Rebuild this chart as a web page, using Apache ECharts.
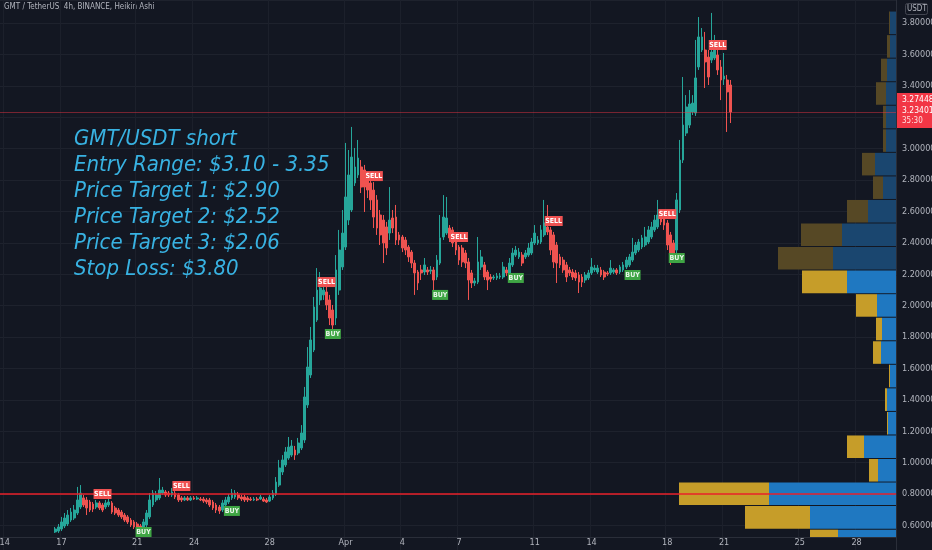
<!DOCTYPE html>
<html><head><meta charset="utf-8">
<script src="https://cdn.jsdelivr.net/npm/echarts@6/dist/echarts.min.js"></script>
<style>html,body{margin:0;padding:0;background:#131722;}#c{width:932px;height:550px;}</style>
</head><body><div id="c"></div>
<script>
// ---------- data ----------
const slotStart = '2022-03-13 20:00';   // first 4h slot of the time axis
const slotCount = 284;
const candleStart = '2022-03-16 16:00'; // first visible Heikin Ashi candle

const opens = [
.558,.564,.577,.596,.609,.634,.647,.679,.717,.775,
.762,.749,.736,.717,.743,.730,.717,.730,.743,.711,
.698,.685,.666,.654,.634,.622,.609,.596,.571,.603,
.654,.730,.762,.775,.806,.813,.806,.794,.806,.794,
.775,.762,.775,.762,.775,.768,.768,.768,.762,.762,
.749,.730,.717,.698,.730,.749,.775,.781,.794,.781,
.781,.775,.768,.762,.768,.768,.768,.762,.755,.775,
.800,.857,.940,.985,1.029,1.048,1.080,1.061,1.093,1.144,
1.367,1.558,1.717,1.908,2.036,2.068,2.087,2.036,1.972,1.921,
2.099,2.246,2.373,2.545,2.609,2.781,2.832,2.883,2.864,2.800,
2.781,2.736,2.673,2.577,2.545,2.501,2.462,2.558,2.564,2.450,
2.437,2.418,2.373,2.341,2.271,2.214,2.227,2.214,2.227,2.220,
2.227,2.182,2.271,2.437,2.462,2.494,2.482,2.450,2.373,2.367,
2.335,2.278,2.208,2.144,2.150,2.246,2.259,2.214,2.182,2.176,
2.176,2.182,2.182,2.227,2.208,2.259,2.322,2.310,2.322,2.310,
2.322,2.335,2.399,2.399,2.405,2.450,2.501,2.482,2.450,2.386,
2.310,2.290,2.259,2.227,2.214,2.208,2.195,2.182,2.163,2.176,
2.208,2.227,2.214,2.227,2.214,2.208,2.208,2.214,2.227,2.214,
2.227,2.246,2.259,2.290,2.335,2.354,2.373,2.386,2.405,2.437,
2.482,2.501,2.564,2.558,2.526,2.450,2.399,2.354,2.609,2.927,
3.099,3.150,3.233,3.227,3.520,3.628,3.628,3.583,3.564,3.577,
3.596,3.520,3.443,3.437,3.405];
const closes = [
.577,.590,.622,.647,.666,.685,.698,.762,.806,.730,
.711,.698,.704,.743,.711,.698,.743,.749,.685,.679,
.666,.654,.634,.622,.603,.590,.571,.564,.622,.679,
.762,.806,.794,.825,.825,.794,.794,.813,.781,.762,
.762,.775,.762,.775,.768,.775,.762,.755,.749,.730,
.711,.698,.692,.743,.762,.781,.806,.806,.775,.768,
.762,.762,.762,.768,.762,.781,.755,.749,.781,.806,
.876,.966,1.017,1.068,1.099,1.106,1.048,1.125,1.189,1.418,
1.609,1.781,1.991,2.099,2.112,2.099,2.004,1.921,1.876,2.227,
2.354,2.462,2.692,2.832,2.946,2.883,2.940,2.755,2.755,2.736,
2.673,2.564,2.494,2.450,2.399,2.367,2.545,2.494,2.418,2.418,
2.367,2.354,2.310,2.271,2.208,2.144,2.208,2.259,2.214,2.227,
2.163,2.290,2.431,2.564,2.558,2.431,2.399,2.354,2.290,2.278,
2.271,2.163,2.144,2.157,2.278,2.310,2.182,2.163,2.169,2.182,
2.189,2.189,2.246,2.208,2.271,2.335,2.354,2.341,2.271,2.335,
2.367,2.405,2.462,2.418,2.482,2.526,2.469,2.354,2.278,2.271,
2.259,2.227,2.182,2.208,2.182,2.176,2.150,2.150,2.195,2.208,
2.246,2.239,2.239,2.195,2.182,2.201,2.239,2.227,2.208,2.246,
2.259,2.290,2.310,2.341,2.386,2.405,2.431,2.437,2.482,2.501,
2.545,2.577,2.533,2.513,2.386,2.322,2.310,2.673,2.927,3.150,
3.265,3.284,3.290,3.450,3.711,3.711,3.552,3.456,3.615,3.673,
3.501,3.437,3.462,3.361,3.233];
const lows = [
.552,.552,.564,.583,.596,.622,.634,.666,.704,.717,
.666,.685,.685,.704,.698,.685,.704,.717,.673,.666,
.654,.641,.622,.609,.590,.577,.558,.545,.552,.590,
.641,.717,.749,.762,.794,.781,.781,.781,.768,.749,
.749,.755,.755,.755,.762,.762,.755,.743,.736,.717,
.698,.679,.673,.685,.717,.736,.762,.768,.762,.755,
.749,.749,.755,.755,.755,.762,.749,.743,.749,.762,
.787,.845,.921,.972,1.017,1.036,1.017,1.048,1.080,1.125,
1.348,1.539,1.704,1.896,2.004,2.036,1.972,1.876,1.845,1.876,
2.068,2.227,2.354,2.513,2.596,2.762,2.813,2.717,2.596,2.685,
2.609,2.494,2.450,2.386,2.271,2.322,2.418,2.462,2.386,2.386,
2.341,2.322,2.278,2.239,2.068,2.099,2.163,2.195,2.195,2.201,
2.087,2.163,2.259,2.418,2.450,2.405,2.373,2.322,2.259,2.246,
2.239,2.036,2.112,2.125,2.137,2.227,2.163,2.099,2.150,2.163,
2.163,2.169,2.169,2.189,2.195,2.246,2.310,2.297,2.252,2.297,
2.310,2.322,2.386,2.386,2.392,2.437,2.450,2.322,2.239,2.144,
2.239,2.208,2.150,2.189,2.163,2.157,2.080,2.118,2.144,2.163,
2.195,2.214,2.201,2.182,2.163,2.189,2.195,2.201,2.195,2.201,
2.214,2.233,2.246,2.278,2.322,2.341,2.360,2.373,2.392,2.424,
2.469,2.488,2.513,2.482,2.354,2.259,2.278,2.278,2.590,2.908,
3.080,3.131,3.214,3.208,3.501,3.615,3.386,3.405,3.545,3.564,
3.469,3.309,3.405,3.106,3.163];
const highs = [
.590,.609,.654,.679,.698,.711,.730,.845,.857,.794,
.781,.762,.749,.762,.755,.743,.762,.768,.755,.724,
.711,.698,.679,.666,.647,.634,.622,.609,.641,.698,
.806,.825,.819,.902,.845,.825,.819,.838,.825,.806,
.787,.787,.787,.787,.787,.787,.781,.781,.775,.775,
.762,.743,.730,.762,.781,.800,.832,.825,.813,.794,
.794,.787,.781,.781,.781,.794,.781,.775,.794,.825,
.908,1.017,1.048,1.099,1.163,1.144,1.106,1.157,1.239,1.482,
1.736,1.864,2.055,2.239,2.214,2.163,2.131,2.068,2.004,2.322,
2.482,2.609,3.036,2.991,3.138,3.004,3.055,2.927,2.896,2.851,
2.819,2.787,2.704,2.609,2.577,2.533,2.755,2.609,2.641,2.469,
2.450,2.437,2.386,2.354,2.290,2.227,2.259,2.303,2.246,2.252,
2.246,2.322,2.577,2.704,2.692,2.513,2.501,2.469,2.386,2.386,
2.354,2.303,2.227,2.176,2.437,2.354,2.278,2.227,2.201,2.195,
2.208,2.208,2.278,2.246,2.303,2.367,2.380,2.367,2.341,2.354,
2.399,2.431,2.513,2.443,2.513,2.673,2.641,2.501,2.469,2.405,
2.329,2.310,2.278,2.246,2.233,2.227,2.214,2.201,2.214,2.227,
2.303,2.259,2.259,2.246,2.227,2.220,2.290,2.239,2.239,2.259,
2.278,2.310,2.329,2.431,2.405,2.424,2.450,2.501,2.507,2.533,
2.577,2.673,2.596,2.577,2.545,2.469,2.418,2.717,3.055,3.456,
3.341,3.373,3.341,3.692,3.838,3.768,3.743,3.628,3.864,3.724,
3.641,3.564,3.609,3.469,3.437];

const tickDates  = ['2022-03-14','2022-03-17','2022-03-21','2022-03-24','2022-03-28','2022-04-01','2022-04-04','2022-04-07','2022-04-11','2022-04-14','2022-04-18','2022-04-21','2022-04-25','2022-04-28'];
const tickLabels = ['14','17','21','24','28','Apr','4','7','11','14','18','21','25','28'];

const signalTimes  = ['2022-03-19 04:00','2022-03-21 08:00','2022-03-23 08:00','2022-03-26 00:00','2022-03-31 00:00','2022-03-31 08:00','2022-04-02 12:00','2022-04-06 00:00','2022-04-07 00:00','2022-04-10 00:00','2022-04-12 00:00','2022-04-16 04:00','2022-04-18 00:00','2022-04-18 12:00','2022-04-20 16:00'];
const signalPrices = [0.800,0.558,0.851,0.692,2.150,1.819,2.825,2.068,2.437,2.176,2.539,2.195,2.583,2.303,3.660];
const signalTypes  = ['SELL','BUY','SELL','BUY','SELL','BUY','SELL','BUY','SELL','BUY','SELL','BUY','SELL','BUY','SELL'];

// volume profile (visible range), rows of 0.15 USDT
const profileLow  = [0.426,0.576,0.726,0.876,1.026,1.176,1.326,1.476,1.626,1.776,1.926,2.076,2.226,2.376,2.526,2.676,2.826,2.976,3.126,3.276,3.426,3.576,3.726];
const profileUp   = [29,43,63.5,9,16,4,4.5,3,7.5,7,9.5,24.5,31.5,27,14,6.5,10.5,5,5,5,4.5,3,3];
const profileDown = [14,32.5,45,4.5,8.5,0.5,1,0.5,4,3,10.5,22.5,27.5,20.5,10.5,5,6.5,1.5,1.5,5,3,1.5,0.5];
const profileRow = 0.15;
const valueAreaHigh = 2.226;

const priceMin = 0.4, priceMax = 3.9465, priceStep = 0.2;
const drawnLevel = 0.80;
const lastPrice = 3.23401, haPrice = 3.27448, countdown = '35:30';

// ---------- helpers ----------
const H4 = 4 * 3600 * 1000;
function parseT(s){ const [d,t] = s.split(' '); const [Y,M,D] = d.split('-').map(Number); const [h,m] = (t||'00:00').split(':').map(Number); return Date.UTC(Y,M-1,D,h,m); }
function fmtT(ms){ const d = new Date(ms); const p = n => String(n).padStart(2,'0');
  return d.getUTCFullYear()+'-'+p(d.getUTCMonth()+1)+'-'+p(d.getUTCDate())+' '+p(d.getUTCHours())+':'+p(d.getUTCMinutes()); }
const cats = []; for (let i=0;i<slotCount;i++) cats.push(fmtT(parseT(slotStart)+i*H4));
const tickMap = {}; tickDates.forEach((d,i)=>{ tickMap[fmtT(parseT(d+' 00:00'))] = tickLabels[i]; });
const candleRows = opens.map((o,i)=>[fmtT(parseT(candleStart)+i*H4), o, closes[i], lows[i], highs[i]]);
const profileRows = profileLow.map((lo,i)=>[lo, lo+profileRow, profileUp[i], profileDown[i], lo >= valueAreaHigh - 1e-6 ? 1 : 0]);

const FONT = "'Liberation Sans Narrow','DejaVu Sans Condensed','Liberation Sans',sans-serif";
const UP='#26a69a', DOWN='#ef5350';
const X_OFFSET = -19.8;

const chart = echarts.init(document.getElementById('c'), null, {renderer:'canvas'});
const gridBox = {left:0, right:36, top:0, bottom:-6.8, outerBoundsMode:'none'};
chart.setOption({
  backgroundColor:'#131722',
  animation:false,
  grid:[Object.assign({},gridBox), Object.assign({},gridBox)],
  xAxis:[
    {type:'category', gridIndex:0, data:cats, boundaryGap:true, offset:X_OFFSET,
     axisLine:{show:true, lineStyle:{color:'#2a2e39'}}, axisTick:{show:false},
     axisLabel:{interval:(i,v)=>tickMap[v]!==undefined, formatter:v=>tickMap[v]||'', color:'#b2b5be', fontSize:9, margin:1, fontFamily:FONT},
     splitLine:{show:true, interval:(i,v)=>tickMap[v]!==undefined, lineStyle:{color:'#1c202b', width:1}}},
    {type:'value', gridIndex:1, min:0, max:448, inverse:true, show:false}
  ],
  yAxis:[
    {type:'value', gridIndex:0, position:'right', min:priceMin, max:priceMax, interval:priceStep,
     axisLine:{show:true, lineStyle:{color:'#2a2e39'}}, axisTick:{show:false},
     axisLabel:{color:'#b2b5be', fontSize:9, margin:6, fontFamily:FONT, showMaxLabel:false, showMinLabel:false,
       formatter:v=> Math.abs(v-3.2)<1e-6 ? '' : v.toFixed(5)},
     splitLine:{show:true, lineStyle:{color:'#1e222d', width:1}}},
    {type:'value', gridIndex:1, min:priceMin, max:priceMax, show:false}
  ],
  series:[
    {type:'custom', xAxisIndex:1, yAxisIndex:1, data:profileRows, clip:false, silent:true,
     renderItem:function(params, api){
       const lo=api.value(0), hi=api.value(1), up=api.value(2), dn=api.value(3), dim=api.value(4);
       const axisY = params.coordSys.y + params.coordSys.height + X_OFFSET; // x-axis line
       const pr = api.coord([0, hi]), pb = api.coord([0, lo]);
       const xUp = api.coord([up, lo])[0], xDn = api.coord([up+dn, lo])[0];
       const y0 = pr[1]+0.5, y1 = Math.min(pb[1]-0.5, axisY);
       const h = y1 - y0;
       return {type:'group', children:[
         {type:'rect', shape:{x:xUp, y:y0, width:pr[0]-xUp, height:h}, style:{fill: dim ? '#1a466f' : '#1f78c1'}},
         {type:'rect', shape:{x:xDn, y:y0, width:xUp-xDn, height:h}, style:{fill: dim ? '#564825' : '#c69d29'}}
       ]};
     }},
    {type:'candlestick', xAxisIndex:0, yAxisIndex:0, data:candleRows, encode:{x:0, y:[1,2,3,4]},
     barWidth:'72%',
     itemStyle:{color:UP, color0:DOWN, borderColor:UP, borderColor0:DOWN, borderWidth:1},
     markLine:{silent:true, symbol:['none','none'], label:{show:false}, animation:false,
       data:[
         {yAxis:lastPrice, lineStyle:{color:'rgba(242,54,69,0.45)', width:1, type:'solid'}},
         {yAxis:drawnLevel, lineStyle:{color:'#e8212a', width:1.5, type:'solid'}}
       ]},
     markPoint:{silent:true, animation:false,
       data:signalTimes.map((t,i)=>({
         name:signalTypes[i], coord:[t, signalPrices[i]], symbol:'rect',
         symbolSize: signalTypes[i]==='SELL' ? [18,10] : [16,10],
         itemStyle:{color: signalTypes[i]==='SELL' ? '#f05252' : '#3fa544'},
         label:{show:true, position:'inside', formatter:'{b}', color: signalTypes[i]==='SELL' ? '#ffffff' : '#e8f5e9', fontSize:7, fontWeight:'bold', fontFamily:FONT}
       }))}
    }
  ],
  graphic:[
    {type:'text', left:4, top:3, style:{text:'GMT / TetherUS, 4h, BINANCE, Heikin Ashi', fill:'#b2b5be', fontSize:8, fontFamily:FONT}},
    {type:'rect', left:905, top:3, shape:{width:22, height:11, r:2}, style:{fill:'#131722', stroke:'#434651', lineWidth:1}, z:10},
    {type:'text', left:907, top:4.5, style:{text:'USDT', fill:'#b2b5be', fontSize:8, fontFamily:FONT}, z:11},
    {type:'rect', left:897, top:93, shape:{width:35, height:35}, style:{fill:'#f23645'}, z:10},
    {type:'text', left:902, top:95, style:{text:haPrice.toFixed(5), fill:'#ffffff', fontSize:8.5, fontFamily:FONT}, z:11},
    {type:'text', left:902, top:106, style:{text:lastPrice.toFixed(5), fill:'#ffffff', fontSize:8.5, fontFamily:FONT}, z:11},
    {type:'text', left:902, top:117, style:{text:countdown, fill:'#ffe0e0', fontSize:8, fontFamily:FONT}, z:11},
    {type:'text', left:74, top:126, style:{
      text:'GMT/USDT short\nEntry Range: $3.10 - 3.35\nPrice Target 1: $2.90\nPrice Target 2: $2.52\nPrice Target 3: $2.06\nStop Loss: $3.80',
      fill:'#38b2e2', fontSize:22, fontStyle:'italic', fontFamily:FONT, lineHeight:26}, z:20}
  ]
});
</script></body></html>
